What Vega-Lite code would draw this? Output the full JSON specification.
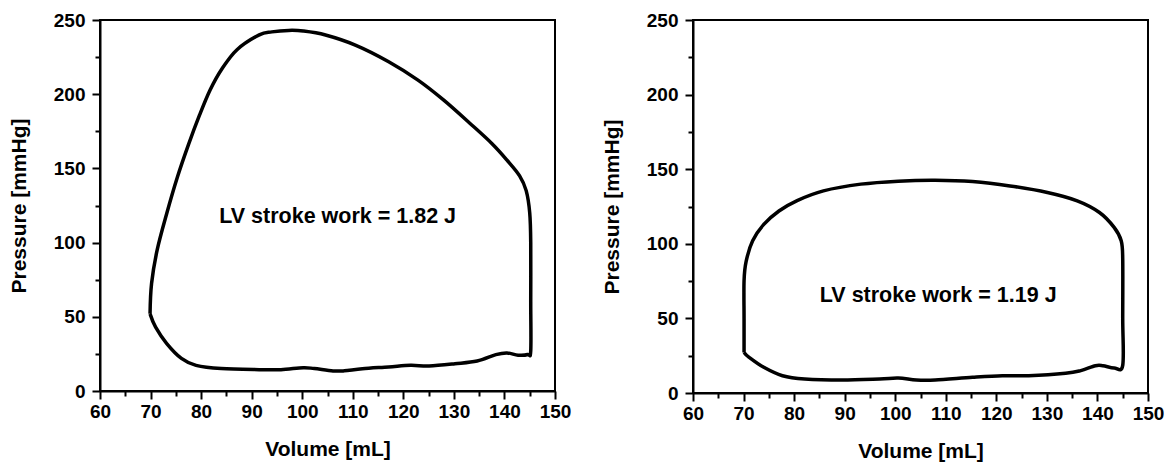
{
  "$schema": "https://vega.github.io/schema/vega-lite/v6.json",
  "padding": {"left": 7, "top": 10, "right": 5, "bottom": 5},
  "background": "white",
  "datasets": {
    "normal": [
      {"i": 1, "volume": 69.9, "pressure": 52},
      {"i": 2, "volume": 71, "pressure": 43},
      {"i": 3, "volume": 73.2, "pressure": 32},
      {"i": 4, "volume": 76.1, "pressure": 22},
      {"i": 5, "volume": 79, "pressure": 17.3},
      {"i": 6, "volume": 84, "pressure": 15.1},
      {"i": 7, "volume": 91.5, "pressure": 14.4},
      {"i": 8, "volume": 95.8, "pressure": 14.4},
      {"i": 9, "volume": 100.2, "pressure": 15.7},
      {"i": 10, "volume": 102.4, "pressure": 15.1},
      {"i": 11, "volume": 106.1, "pressure": 13.5},
      {"i": 12, "volume": 108.3, "pressure": 13.6},
      {"i": 13, "volume": 111.9, "pressure": 15},
      {"i": 14, "volume": 117.1, "pressure": 16.2},
      {"i": 15, "volume": 121.4, "pressure": 17.3},
      {"i": 16, "volume": 125.1, "pressure": 16.9},
      {"i": 17, "volume": 130.2, "pressure": 18.4},
      {"i": 18, "volume": 134.6, "pressure": 20.2},
      {"i": 19, "volume": 138.3, "pressure": 24.5},
      {"i": 20, "volume": 140.5, "pressure": 25.6},
      {"i": 21, "volume": 142.7, "pressure": 24.1},
      {"i": 22, "volume": 144.6, "pressure": 24.6},
      {"i": 23, "volume": 145.2, "pressure": 27},
      {"i": 24, "volume": 145.2, "pressure": 60},
      {"i": 25, "volume": 145.2, "pressure": 100},
      {"i": 26, "volume": 145, "pressure": 120},
      {"i": 27, "volume": 144.3, "pressure": 135},
      {"i": 28, "volume": 143, "pressure": 145},
      {"i": 29, "volume": 140.5, "pressure": 155.6},
      {"i": 30, "volume": 137.5, "pressure": 166.8},
      {"i": 31, "volume": 133.2, "pressure": 180.3},
      {"i": 32, "volume": 128, "pressure": 196},
      {"i": 33, "volume": 122.9, "pressure": 209.5},
      {"i": 34, "volume": 117.1, "pressure": 221.9},
      {"i": 35, "volume": 110.5, "pressure": 233.1},
      {"i": 36, "volume": 104.6, "pressure": 239.9},
      {"i": 37, "volume": 100.2, "pressure": 242.6},
      {"i": 38, "volume": 97.3, "pressure": 243},
      {"i": 39, "volume": 94, "pressure": 242},
      {"i": 40, "volume": 91.5, "pressure": 240},
      {"i": 41, "volume": 87.1, "pressure": 230},
      {"i": 42, "volume": 84.1, "pressure": 217},
      {"i": 43, "volume": 81.8, "pressure": 203},
      {"i": 44, "volume": 79.7, "pressure": 186},
      {"i": 45, "volume": 77.5, "pressure": 166},
      {"i": 46, "volume": 75.3, "pressure": 144},
      {"i": 47, "volume": 73.2, "pressure": 119.6},
      {"i": 48, "volume": 71.3, "pressure": 94.9},
      {"i": 49, "volume": 70.2, "pressure": 72.4},
      {"i": 50, "volume": 69.9, "pressure": 52}
    ],
    "reduced": [
      {"i": 1, "volume": 70.1, "pressure": 27.2},
      {"i": 2, "volume": 70.1, "pressure": 50},
      {"i": 3, "volume": 70.1, "pressure": 75.2},
      {"i": 4, "volume": 70.5, "pressure": 88},
      {"i": 5, "volume": 71.8, "pressure": 102},
      {"i": 6, "volume": 74, "pressure": 113},
      {"i": 7, "volume": 77, "pressure": 122},
      {"i": 8, "volume": 80.6, "pressure": 129},
      {"i": 9, "volume": 85.8, "pressure": 135.5},
      {"i": 10, "volume": 93.2, "pressure": 140},
      {"i": 11, "volume": 100.6, "pressure": 142},
      {"i": 12, "volume": 107.9, "pressure": 142.6},
      {"i": 13, "volume": 115.3, "pressure": 141.7},
      {"i": 14, "volume": 122.7, "pressure": 138.8},
      {"i": 15, "volume": 130.1, "pressure": 134.4},
      {"i": 16, "volume": 136, "pressure": 128.8},
      {"i": 17, "volume": 140.4, "pressure": 121},
      {"i": 18, "volume": 143.3, "pressure": 111},
      {"i": 19, "volume": 144.7, "pressure": 102},
      {"i": 20, "volume": 145, "pressure": 90},
      {"i": 21, "volume": 145, "pressure": 50},
      {"i": 22, "volume": 145, "pressure": 18.5},
      {"i": 23, "volume": 143.3, "pressure": 16.8},
      {"i": 24, "volume": 141.1, "pressure": 18.3},
      {"i": 25, "volume": 139.6, "pressure": 18.3},
      {"i": 26, "volume": 136.7, "pressure": 15},
      {"i": 27, "volume": 133.7, "pressure": 13.2},
      {"i": 28, "volume": 126.4, "pressure": 11.6},
      {"i": 29, "volume": 121.2, "pressure": 11.6},
      {"i": 30, "volume": 115.3, "pressure": 10.5},
      {"i": 31, "volume": 107.9, "pressure": 8.7},
      {"i": 32, "volume": 104.2, "pressure": 8.7},
      {"i": 33, "volume": 100.6, "pressure": 10},
      {"i": 34, "volume": 96.9, "pressure": 9.4},
      {"i": 35, "volume": 89.5, "pressure": 8.7},
      {"i": 36, "volume": 82.1, "pressure": 9.4},
      {"i": 37, "volume": 77.7, "pressure": 11.6},
      {"i": 38, "volume": 74, "pressure": 17.2},
      {"i": 39, "volume": 71.1, "pressure": 23.9},
      {"i": 40, "volume": 70.1, "pressure": 27.2}
    ],
    "note_normal": [{"volume": 107, "pressure": 117.5, "label": "LV stroke work = 1.82 J"}],
    "note_reduced": [{"volume": 108.5, "pressure": 65, "label": "LV stroke work = 1.19 J"}]
  },
  "config": {
    "font": "Liberation Sans",
    "view": {"stroke": "black", "strokeWidth": 2},
    "axis": {
      "grid": false,
      "domainColor": "black",
      "domainWidth": 2,
      "tickColor": "black",
      "tickWidth": 2,
      "labelFont": "Liberation Sans",
      "labelFontSize": 19,
      "labelFontWeight": "bold",
      "labelColor": "black",
      "labelOverlap": false,
      "labelFlush": false,
      "titleFont": "Liberation Sans",
      "titleFontSize": 21,
      "titleFontWeight": "bold",
      "titleColor": "black"
    }
  },
  "spacing": 138,
  "bounds": "flush",
  "hconcat": [
    {
      "width": 455,
      "height": 371,
      "resolve": {"axis": {"x": "independent", "y": "independent"}},
      "layer": [
        {
          "data": {"name": "normal"},
          "mark": {"type": "line", "color": "black", "strokeWidth": 3.5, "interpolate": "cardinal"},
          "encoding": {
            "order": {"field": "i", "type": "quantitative"},
            "x": {
              "field": "volume", "type": "quantitative",
              "scale": {"domain": [60, 150], "nice": false, "zero": false},
              "axis": {
                "orient": "bottom",
                "title": "Volume [mL]",
                "values": [60, 70, 80, 90, 100, 110, 120, 130, 140, 150],
                "tickSize": 8,
                "labelPadding": 3,
                "titlePadding": 17
              }
            },
            "y": {
              "field": "pressure", "type": "quantitative",
              "scale": {"domain": [0, 250], "nice": false},
              "axis": {
                "orient": "left",
                "title": "Pressure [mmHg]",
                "values": [0, 50, 100, 150, 200, 250],
                "tickSize": 8,
                "labelPadding": 7,
                "titlePadding": 24
              }
            }
          }
        },
        {
          "data": {"name": "note_normal"},
          "mark": {"type": "text", "fontSize": 21.5, "fontWeight": "bold", "color": "black", "font": "Liberation Sans"},
          "encoding": {
            "x": {
              "field": "volume", "type": "quantitative",
              "scale": {"domain": [60, 150], "nice": false, "zero": false},
              "axis": {
                "orient": "bottom",
                "title": null,
                "values": [65, 75, 85, 95, 105, 115, 125, 135, 145],
                "labels": false,
                "domain": false,
                "tickSize": 5
              }
            },
            "y": {
              "field": "pressure", "type": "quantitative",
              "scale": {"domain": [0, 250], "nice": false},
              "axis": {
                "orient": "left",
                "title": null,
                "values": [25, 75, 125, 175, 225],
                "labels": false,
                "domain": false,
                "tickSize": 5
              }
            },
            "text": {"field": "label"}
          }
        }
      ]
    },
    {
      "width": 455,
      "height": 373,
      "resolve": {"axis": {"x": "independent", "y": "independent"}},
      "layer": [
        {
          "data": {"name": "reduced"},
          "mark": {"type": "line", "color": "black", "strokeWidth": 3.5, "interpolate": "cardinal"},
          "encoding": {
            "order": {"field": "i", "type": "quantitative"},
            "x": {
              "field": "volume", "type": "quantitative",
              "scale": {"domain": [60, 150], "nice": false, "zero": false},
              "axis": {
                "orient": "bottom",
                "title": "Volume [mL]",
                "values": [60, 70, 80, 90, 100, 110, 120, 130, 140, 150],
                "tickSize": 8,
                "labelPadding": 3,
                "titlePadding": 17
              }
            },
            "y": {
              "field": "pressure", "type": "quantitative",
              "scale": {"domain": [0, 250], "nice": false},
              "axis": {
                "orient": "left",
                "title": "Pressure [mmHg]",
                "values": [0, 50, 100, 150, 200, 250],
                "tickSize": 8,
                "labelPadding": 7,
                "titlePadding": 24
              }
            }
          }
        },
        {
          "data": {"name": "note_reduced"},
          "mark": {"type": "text", "fontSize": 21.5, "fontWeight": "bold", "color": "black", "font": "Liberation Sans"},
          "encoding": {
            "x": {
              "field": "volume", "type": "quantitative",
              "scale": {"domain": [60, 150], "nice": false, "zero": false},
              "axis": {
                "orient": "bottom",
                "title": null,
                "values": [65, 75, 85, 95, 105, 115, 125, 135, 145],
                "labels": false,
                "domain": false,
                "tickSize": 5
              }
            },
            "y": {
              "field": "pressure", "type": "quantitative",
              "scale": {"domain": [0, 250], "nice": false},
              "axis": {
                "orient": "left",
                "title": null,
                "values": [25, 75, 125, 175, 225],
                "labels": false,
                "domain": false,
                "tickSize": 5
              }
            },
            "text": {"field": "label"}
          }
        }
      ]
    }
  ]
}
